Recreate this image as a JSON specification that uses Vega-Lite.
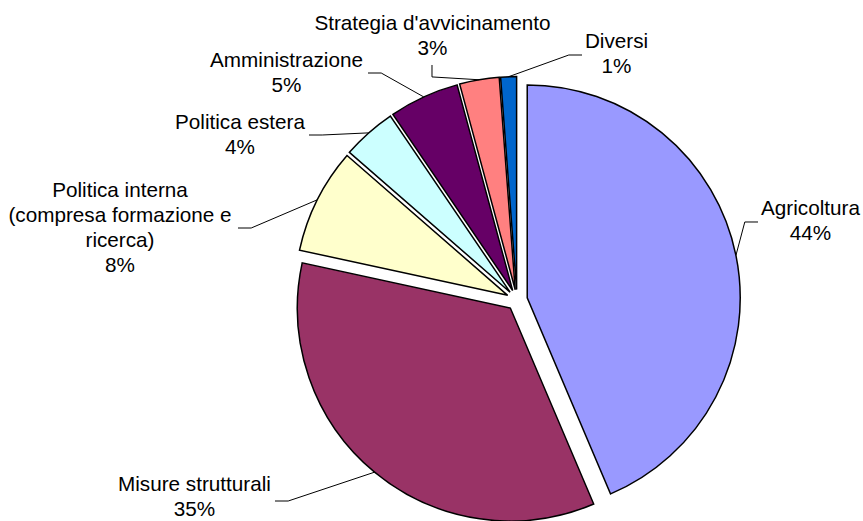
{
  "$schema": "https://vega.github.io/schema/vega-lite/v6.json",
  "width": 426,
  "height": 426,
  "autosize": {"type": "none"},
  "padding": {"left": 304, "top": 87, "right": 133, "bottom": 8},
  "background": "white",
  "config": {"view": {"stroke": null}},
  "data": {
    "values": [
      {"category": "Agricoltura", "value": 43.6},
      {"category": "Misure strutturali", "value": 34.8},
      {"category": "Politica interna (compresa formazione e ricerca)", "value": 8.0},
      {"category": "Politica estera", "value": 4.1},
      {"category": "Amministrazione", "value": 5.3},
      {"category": "Strategia d'avvicinamento", "value": 3.0},
      {"category": "Diversi", "value": 1.2}
    ]
  },
  "transform": [
    {"window": [{"op": "sum", "field": "value", "as": "v1"}, {"op": "row_number", "as": "idx"}], "frame": [null, 0]},
    {"calculate": "datum.v1 - datum.value", "as": "v0"},
    {"calculate": "(datum.v0 + datum.v1) * PI / 100", "as": "mid"},
    {"calculate": "0.049 * sin(datum.mid)", "as": "ex"},
    {"calculate": "0.049 * cos(datum.mid)", "as": "ey"},
    {"calculate": "datum.ex + sin(datum.mid)", "as": "edgeX"},
    {"calculate": "datum.ey + cos(datum.mid)", "as": "edgeY"},
    {"calculate": "[1.3779, -1.5141, -1.8638, -1.3005, -1.0822, -0.3967, 0.4671][datum.idx - 1]", "as": "labelX"},
    {"calculate": "[0.4272, -0.8685, 0.5118, 0.8310, 1.1221, 1.2981, 1.2113][datum.idx - 1]", "as": "labelY"},
    {"calculate": "[1.1315, -1.1362, -1.3099, -0.9765, -0.6995, -0.3991, 0.3052][datum.idx - 1]", "as": "anchorX"},
    {"calculate": "[0.3662, -0.9437, 0.3380, 0.7746, 1.0657, 1.1033, 1.1502][datum.idx - 1]", "as": "anchorY"},
    {"calculate": "abs(datum.labelX - datum.anchorX) < 0.1 ? 'T' : (datum.labelX > datum.anchorX ? 'R' : 'L')", "as": "side"},
    {"calculate": "datum.anchorX + (datum.side === 'R' ? -0.062 : datum.side === 'L' ? 0.062 : 0)", "as": "bendX"},
    {"calculate": "datum.anchorY - (datum.side === 'T' ? 0.056 : 0)", "as": "bendY"},
    {"calculate": "replace(replace(datum.category, ' (', '\\n('), 'e ricerca', 'e\\nricerca') + '\\n' + format(datum.value, '.0f') + '%'", "as": "label"}
  ],
  "layer": [
    {
      "mark": {"type": "arc", "outerRadius": 213, "stroke": "#000000", "strokeWidth": 1.5},
      "encoding": {
        "theta": {"field": "v0", "type": "quantitative", "stack": null, "scale": {"domain": [0, 100]}},
        "theta2": {"field": "v1"},
        "x": {"field": "ex", "type": "quantitative", "scale": {"domain": [-1, 1], "nice": false, "zero": false}, "axis": null},
        "y": {"field": "ey", "type": "quantitative", "scale": {"domain": [-1, 1], "nice": false, "zero": false}, "axis": null},
        "color": {
          "field": "category",
          "type": "nominal",
          "scale": {
            "domain": ["Agricoltura", "Misure strutturali", "Politica interna (compresa formazione e ricerca)", "Politica estera", "Amministrazione", "Strategia d'avvicinamento", "Diversi"],
            "range": ["#9999FF", "#993366", "#FFFFCC", "#CCFFFF", "#660066", "#FF8080", "#0066CC"]
          },
          "legend": null
        }
      }
    },
    {
      "mark": {"type": "rule", "color": "#000000", "strokeWidth": 1},
      "encoding": {
        "x": {"field": "edgeX", "type": "quantitative", "scale": {"domain": [-1, 1], "nice": false, "zero": false}, "axis": null},
        "y": {"field": "edgeY", "type": "quantitative", "scale": {"domain": [-1, 1], "nice": false, "zero": false}, "axis": null},
        "x2": {"field": "bendX"},
        "y2": {"field": "bendY"}
      }
    },
    {
      "mark": {"type": "rule", "color": "#000000", "strokeWidth": 1},
      "encoding": {
        "x": {"field": "bendX", "type": "quantitative", "scale": {"domain": [-1, 1], "nice": false, "zero": false}, "axis": null},
        "y": {"field": "bendY", "type": "quantitative", "scale": {"domain": [-1, 1], "nice": false, "zero": false}, "axis": null},
        "x2": {"field": "anchorX"},
        "y2": {"field": "anchorY"}
      }
    },
    {
      "mark": {"type": "text", "align": "center", "baseline": "middle", "font": "Liberation Sans", "fontSize": 20.7, "lineHeight": 25, "lineBreak": "\n", "color": "#000000"},
      "encoding": {
        "x": {"field": "labelX", "type": "quantitative", "scale": {"domain": [-1, 1], "nice": false, "zero": false}, "axis": null},
        "y": {"field": "labelY", "type": "quantitative", "scale": {"domain": [-1, 1], "nice": false, "zero": false}, "axis": null},
        "text": {"field": "label"}
      }
    }
  ]
}
